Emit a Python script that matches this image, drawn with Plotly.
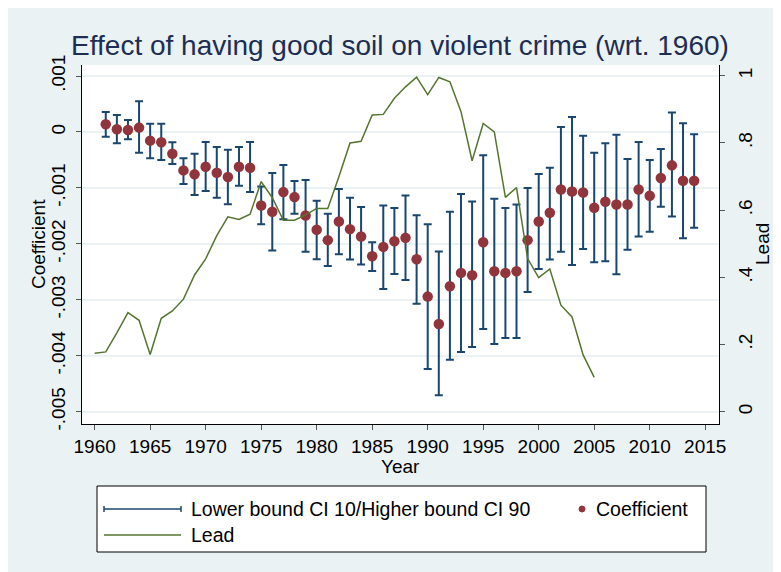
import plotly.graph_objects as go

# Coefficient estimates by year (with 10/90 CI bounds)
years = list(range(1961, 2015))
coef = [0.000137, 0.000048, 0.000036, 0.000078, -0.000155, -0.000185, -0.000388, -0.000687,
        -0.000758, -0.000621, -0.000728, -0.000806, -0.000621, -0.000639, -0.001313, -0.001427,
        -0.001075, -0.001164, -0.001493, -0.001749, -0.001934, -0.001600, -0.001737, -0.001869,
        -0.002221, -0.002054, -0.001952, -0.001893, -0.002275, -0.002943, -0.003433, -0.002758,
        -0.002519, -0.002561, -0.001970, -0.002490, -0.002519, -0.002490, -0.001934, -0.001600,
        -0.001445, -0.001027, -0.001063, -0.001081, -0.001355, -0.001248, -0.001296, -0.001296,
        -0.001027, -0.001140, -0.000824, -0.000597, -0.000872, -0.000872]
ci_upper = [0.000358, 0.000304, 0.000215, 0.000549, 0.000149, 0.000149, -0.000185, -0.000472,
            -0.000388, -0.000179, -0.000269, -0.000316, -0.000269, -0.000179, -0.000973, -0.000734,
            -0.000591, -0.000878, -0.000860, -0.001230, -0.001463, -0.001021, -0.001176, -0.001343,
            -0.001970, -0.001313, -0.001361, -0.001134, -0.001487, -0.001648, -0.002137, -0.001427,
            -0.001110, -0.001242, -0.000418, -0.001194, -0.001361, -0.001295, -0.001003, -0.000752,
            -0.000639, 0.000090, 0.000269, -0.000066, -0.000370, -0.000203, -0.000048, -0.000484,
            -0.000179, -0.000501, -0.000304, 0.000346, 0.000155, -0.000042]
ci_lower = [-0.000084, -0.000203, -0.000131, -0.000370, -0.000472, -0.000501, -0.000573, -0.000931,
            -0.001128, -0.001057, -0.001176, -0.001290, -0.000961, -0.001075, -0.001648, -0.002119,
            -0.001558, -0.001463, -0.002143, -0.002275, -0.002394, -0.002185, -0.002281, -0.002370,
            -0.002484, -0.002806, -0.002537, -0.002645, -0.003069, -0.004239, -0.004704, -0.004072,
            -0.003934, -0.003845, -0.003522, -0.003791, -0.003684, -0.003684, -0.002860, -0.002448,
            -0.002281, -0.002143, -0.002376, -0.002090, -0.002328, -0.002310, -0.002543, -0.002107,
            -0.001869, -0.001785, -0.001337, -0.001510, -0.001899, -0.001713]

# Lead (right axis)
lead_years = list(range(1960, 2006))
lead = [0.174, 0.178, 0.235, 0.295, 0.272, 0.170, 0.278, 0.300, 0.335, 0.407, 0.455, 0.524,
        0.580, 0.572, 0.588, 0.685, 0.637, 0.570, 0.570, 0.586, 0.605, 0.605, 0.699, 0.800,
        0.805, 0.883, 0.885, 0.933, 0.967, 0.996, 0.944, 0.995, 0.982, 0.893, 0.747, 0.858,
        0.833, 0.638, 0.667, 0.456, 0.399, 0.425, 0.317, 0.282, 0.169, 0.102]

x_ticks = list(range(1960, 2016, 5))
y_ticks = [-0.005, -0.004, -0.003, -0.002, -0.001, 0, 0.001]
y_ticktext = ["-.005", "-.004", "-.003", "-.002", "-.001", "0", ".001"]
y2_ticks = [0, 0.2, 0.4, 0.6, 0.8, 1]
y2_ticktext = ["0", ".2", ".4", ".6", ".8", "1"]

NAVY = "#1A476F"
MAROON = "#90353B"
GREEN = "#55752F"
BG = "#EAF2F3"
FONT = "Liberation Sans"

# the page body keeps its default 8px margin, which gives the white border
OFF = 8
W, H = 770, 570
L, R, T, B = 82, 719, 65, 424  # plot area in screen pixels


def px(x):
    return (x - L) / (R - L)


def py(y):
    return (B - y) / (B - T)


fig = go.Figure()

# CI caps (rcap)
fig.add_trace(go.Scatter(
    x=years,
    y=ci_lower,
    mode="markers",
    marker=dict(size=1, opacity=0),
    error_y=dict(
        type="data",
        symmetric=False,
        array=[u - l for u, l in zip(ci_upper, ci_lower)],
        arrayminus=[0] * len(years),
        color=NAVY,
        thickness=2,
        width=4,
    ),
    showlegend=False,
    hoverinfo="skip",
))

# Coefficient
fig.add_trace(go.Scatter(
    x=years,
    y=coef,
    mode="markers",
    marker=dict(color=MAROON, size=10.5),
    showlegend=False,
))

# Lead
fig.add_trace(go.Scatter(
    x=lead_years,
    y=lead,
    mode="lines",
    line=dict(color=GREEN, width=1.5),
    yaxis="y2",
    showlegend=False,
))

# Legend drawn by hand (Stata style)
row1, row2 = 509, 535
shapes = [
    dict(type="rect", xref="paper", yref="paper", x0=px(97), x1=px(706), y0=py(486), y1=py(552),
         fillcolor="white", line=dict(color="black", width=1)),
    dict(type="line", xref="paper", yref="paper", x0=px(104), x1=px(181), y0=py(row1), y1=py(row1),
         line=dict(color=NAVY, width=1.5)),
    dict(type="line", xref="paper", yref="paper", x0=px(104), x1=px(104), y0=py(row1 - 3), y1=py(row1 + 3),
         line=dict(color=NAVY, width=1.5)),
    dict(type="line", xref="paper", yref="paper", x0=px(181), x1=px(181), y0=py(row1 - 3), y1=py(row1 + 3),
         line=dict(color=NAVY, width=1.5)),
    dict(type="circle", xref="paper", yref="paper", x0=px(579), x1=px(585), y0=py(row1 - 3), y1=py(row1 + 3),
         fillcolor=MAROON, line=dict(color=MAROON, width=1)),
    dict(type="line", xref="paper", yref="paper", x0=px(104), x1=px(181), y0=py(row2), y1=py(row2),
         line=dict(color=GREEN, width=1.5)),
]

legend_font = dict(size=19.5, color="black", family=FONT)
axis_font = dict(size=19, color="black", family=FONT)
annotations = [
    dict(text="Lower bound CI 10/Higher bound CI 90", xref="paper", yref="paper",
         x=px(189), y=py(row1), xanchor="left", yanchor="middle", showarrow=False, font=legend_font),
    dict(text="Coefficient", xref="paper", yref="paper",
         x=px(594), y=py(row1), xanchor="left", yanchor="middle", showarrow=False, font=legend_font),
    dict(text="Lead", xref="paper", yref="paper",
         x=px(189), y=py(row2), xanchor="left", yanchor="middle", showarrow=False, font=legend_font),
    # axis titles
    dict(text="Year", xref="paper", yref="paper", x=px(400), y=py(466),
         xanchor="center", yanchor="middle", showarrow=False, font=axis_font),
    dict(text="Coefficient", xref="paper", yref="paper", x=px(38), y=py(244),
         xanchor="center", yanchor="middle", textangle=-90, showarrow=False, font=axis_font),
    dict(text="Lead", xref="paper", yref="paper", x=px(762), y=py(244),
         xanchor="center", yanchor="middle", textangle=-90, showarrow=False, font=axis_font),
]

fig.update_layout(
    width=W,
    height=H,
    margin=dict(l=L - OFF, r=W - (R - OFF), t=T - OFF, b=H - (B - OFF)),
    paper_bgcolor=BG,
    plot_bgcolor="white",
    font=dict(family=FONT, size=19, color="black"),
    title=dict(
        text="Effect of having good soil on violent crime (wrt. 1960)",
        x=px(400), xref="paper", xanchor="center",
        y=1 - (45 - OFF) / H, yanchor="middle",
        font=dict(size=28, color="#1E2D53", family=FONT),
        automargin=False,
    ),
    xaxis=dict(
        range=[1958.86, 2016.24],
        tickvals=x_ticks,
        ticks="outside", ticklen=5, tickcolor="#555",
        showline=True, linecolor="black", linewidth=1,
        showgrid=False, zeroline=False, automargin=False,
    ),
    yaxis=dict(
        range=[-0.00522, 0.001197],
        tickvals=y_ticks, ticktext=y_ticktext, tickangle=-90,
        ticks="outside", ticklen=5, tickcolor="#555", ticklabelstandoff=3,
        showline=True, linecolor="black", linewidth=1,
        showgrid=True, gridcolor=BG, gridwidth=1.5, zeroline=False, automargin=False,
    ),
    yaxis2=dict(
        range=[-0.0366, 1.032],
        overlaying="y", side="right",
        tickvals=y2_ticks, ticktext=y2_ticktext, tickangle=-90,
        ticks="outside", ticklen=5, tickcolor="#555", ticklabelstandoff=4,
        showline=True, linecolor="black", linewidth=1,
        showgrid=False, zeroline=False, automargin=False,
    ),
    shapes=shapes,
    annotations=annotations,
)

fig.write_html("out.html")
